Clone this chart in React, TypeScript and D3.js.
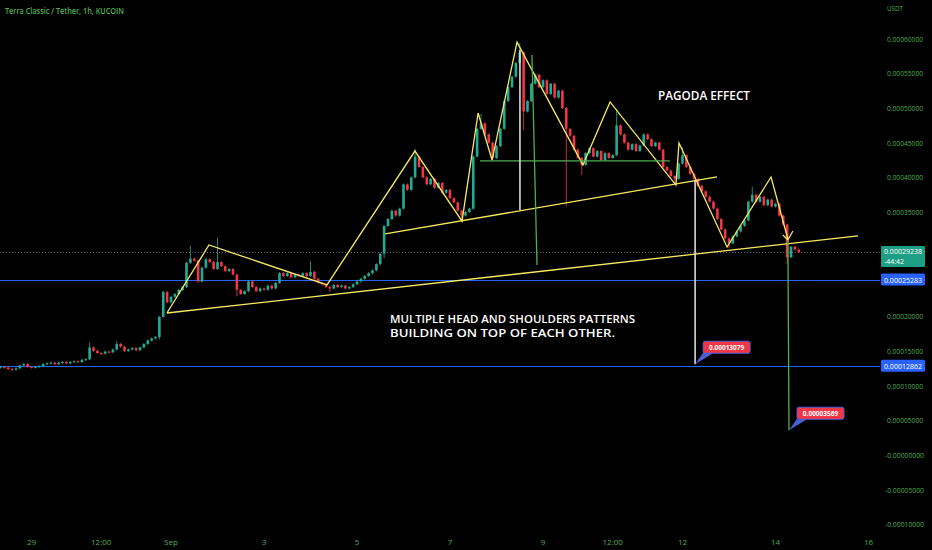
import React from 'react';
import * as d3 from 'd3';

const W = 932;
const H = 550;
const HOUR = 3600e3;
const T0 = Date.UTC(2022, 7, 29); // Aug 29 00:00
const T_END = Date.UTC(2022, 8, 16); // Sep 16
const CANDLE_START = Date.UTC(2022, 7, 28, 8);
const CANDLE_HOURS = 2;

// 2h closes in micro-USDT (1e-6)
const FIRST_OPEN = 126;
const closes = [
  127, 126, 124, 123, 125,
  129, 131, 127, 126, 127,
  128, 131, 132, 133, 131,
  133, 134, 132, 134, 135,
  134, 137, 138, 155, 150,
  147, 146, 149, 148, 152,
  160, 156, 150, 152, 154,
  151, 155, 160, 165, 168,
  170, 199, 235, 220, 228,
  232, 238, 242, 277, 283,
  280, 250, 270, 282, 278,
  268, 278, 272, 265, 268,
  260, 238, 232, 236, 250,
  242, 236, 240, 238, 244,
  240, 248, 262, 258, 262,
  256, 260, 258, 262, 258,
  264, 254, 248, 246, 242,
  240, 245, 242, 244, 240,
  242, 246, 250, 254, 258,
  262, 266, 275, 290, 330,
  340, 352, 345, 355, 390,
  382, 400, 430, 415, 400,
  390, 398, 385, 392, 378,
  382, 370, 364, 352, 345,
  350, 355, 430, 470, 478,
  462, 450, 428, 445, 470,
  510, 530, 545, 565, 580,
  495, 510, 535, 548, 530,
  540, 520, 535, 515, 525,
  500, 470, 460, 440, 428,
  418, 435, 442, 430, 438,
  425, 435, 428, 432, 475,
  462, 450, 440, 448, 438,
  446, 462, 455, 445, 450,
  440, 415, 410, 402, 398,
  420, 432, 415, 405, 398,
  388, 380, 372, 365, 355,
  340, 325, 312, 305, 315,
  322, 330, 338, 365, 375,
  365, 372, 360, 368, 358,
  362, 345, 332, 285, 300,
  296, 292.38,
];

// notable wicks: [candle index, high, low] (micro-USDT)
const wicks: [number, number | null, number | null][] = [
  [23, 161, null], [30, 163, null], [41, null, 168], [49, 300, null], [56, 312, null],
  [61, null, 230], [80, 278, null], [85, null, 236], [99, null, 285], [107, 440, null],
  [119, null, 338], [124, 490, null], [134, 592, null], [135, null, 470],
  [146, null, 360], [150, null, 405], [159, 497, null], [174, null, 392],
  [176, 442, null], [188, null, 300], [194, 385, null], [203, null, 277],
];

// y axis
const yTickValues = [0.0006, 0.00055, 0.0005, 0.00045, 0.0004, 0.00035, 0.0003, 0.00025, 0.0002, 0.00015, 0.0001, 0.00005, 0, -0.00005, -0.0001];
const yTickLabels = ['0.00060000', '0.00055000', '0.00050000', '0.00045000', '0.00040000', '0.00035000', '0.00030000', '0.00025000', '0.00020000', '0.00015000', '0.00010000', '0.00005000', '-0.00000000', '-0.00005000', '-0.00010000'];

// x axis
const xTickDates = [
  Date.UTC(2022, 7, 29), Date.UTC(2022, 7, 30, 12), Date.UTC(2022, 8, 1), Date.UTC(2022, 8, 3),
  Date.UTC(2022, 8, 5), Date.UTC(2022, 8, 7), Date.UTC(2022, 8, 9), Date.UTC(2022, 8, 10, 12),
  Date.UTC(2022, 8, 12), Date.UTC(2022, 8, 14), Date.UTC(2022, 8, 16),
];
const xTickLabels = ['29', '12:00', 'Sep', '3', '5', '7', '9', '12:00', '12', '14', '16'];

// horizontal levels
const hLevels = [0.00025283, 0.00012862];
const lastPrice = 0.00029238;
const countdown = '-44:42';

// drawings: points as [hours since Aug 29 00:00, micro-USDT]
const yellowZigzag: [number, number][] = [
  [69.9, 204.6], [91.6, 302.6], [152.5, 245], [197.9, 438], [222.2, 337], [230.5, 492.8],
  [237.7, 425], [250.6, 595], [284.6, 418], [298.6, 508.7], [332.6, 389], [334.2, 449.6],
  [359, 299.7], [381.7, 400.6], [390.4, 311.3],
];
const yellowArrow: [number, number][] = [[387.8, 317], [390.4, 309.8], [393.0, 322.8]];
const yellowLowerTrend: [number, number][] = [[69.9, 204.6], [426.6, 315.6]];
const yellowNeckline: [number, number][] = [[182.5, 318.5], [353.8, 400.6]];
const greenNeck: [number, number][] = [[231.5, 423.7], [329.5, 423.7]];
const greenDrop1: [number, number][] = [[258.3, 576.4], [260.9, 273.8]];
const greenDrop2: [number, number][] = [[390.4, 309.8], [390.97, 35.69]];
const whiteDrop1: [number, number][] = [[252.1, 583.6], [252.1, 353]];
const whiteDrop2: [number, number][] = [[342.5, 396], [342.5, 130.79]];

const callouts: { h: number; p: number; label: string }[] = [
  { h: 342.5, p: 130.79, label: '0.00013079' },
  { h: 390.97, p: 35.69, label: '0.00003569' },
];

const AXIS_GREEN = '#4caf50';
const UP = '#22ab94';
const DOWN = '#f23645';
const YELLOW = '#f7ea62';
const BLUE = '#2962ff';

export default function App() {
  const x = d3.scaleUtc().domain([new Date(T0), new Date(T_END)]).range([31.5, 868.5]);
  const y = d3.scaleLinear().domain([0, 0.0006]).range([455, 38.6]);
  const xh = (h: number) => x(new Date(T0 + h * HOUR));
  const yu = (p: number) => y(p * 1e-6);
  const line = d3.line<[number, number]>().x(d => xh(d[0])).y(d => yu(d[1]));

  const candles = closes.map((c, i) => {
    const o = i === 0 ? FIRST_OPEN : closes[i - 1];
    const w = wicks.find(k => k[0] === i);
    const hi = Math.max(o, c, w && w[1] != null ? w[1] : -Infinity);
    const lo = Math.min(o, c, w && w[2] != null ? w[2] : Infinity);
    return { t: new Date(CANDLE_START + i * CANDLE_HOURS * HOUR), o, c, hi, lo };
  });

  const bodyW = 2.6;
  const chartRight = 880;
  const crisp = (v: number) => Math.round(v) + 0.5;

  // hide axis tick labels covered by the price label boxes
  const boxes = [...hLevels.map(v => ({ c: y(v), r: 9 })), { c: y(lastPrice) + 4, r: 13 }];
  const visibleTicks = yTickValues
    .map((v, i) => ({ v, label: yTickLabels[i] }))
    .filter(t => boxes.every(b => Math.abs(y(t.v) - b.c) > b.r));

  return (
    <div style={{ position: 'fixed', left: 0, top: 0, width: W, height: H, background: '#000' }}>
      <svg width={W} height={H} style={{ display: 'block', background: '#000' }} fontFamily="'Open Sans', sans-serif">
        <defs>
          <clipPath id="plot">
            <rect x={0} y={0} width={chartRight} height={530} />
          </clipPath>
        </defs>
        <g clipPath="url(#plot)">
          {/* last price dotted line */}
          <line x1={0} x2={chartRight} y1={crisp(y(lastPrice))} y2={crisp(y(lastPrice))} stroke="#5d606b" strokeWidth={1} strokeDasharray="1 2" />
          {/* horizontal levels */}
          {hLevels.map((v, i) => (
            <line key={i} x1={0} x2={chartRight} y1={crisp(y(v))} y2={crisp(y(v))} stroke={BLUE} strokeWidth={1} />
          ))}
          {/* candles */}
          {candles.map((d, i) => {
            const cx = x(d.t);
            const col = d.c >= d.o ? UP : DOWN;
            const top = yu(Math.max(d.o, d.c));
            const bot = yu(Math.min(d.o, d.c));
            return (
              <g key={i}>
                <line x1={cx} x2={cx} y1={yu(d.hi) - 1} y2={yu(d.lo) + 1} stroke={col} strokeWidth={0.8} />
                <rect x={cx - bodyW / 2} y={top} width={bodyW} height={Math.max(1, bot - top)} fill={col} />
              </g>
            );
          })}
          {/* drawings */}
          <path d={line(yellowLowerTrend) || ''} stroke={YELLOW} strokeWidth={1.3} fill="none" />
          <path d={line(yellowNeckline) || ''} stroke={YELLOW} strokeWidth={1.3} fill="none" />
          <path d={line(yellowZigzag) || ''} stroke={YELLOW} strokeWidth={1.3} fill="none" strokeLinejoin="miter" />
          <path d={line(yellowArrow) || ''} stroke={YELLOW} strokeWidth={1.3} fill="none" />
          <path d={line(greenNeck) || ''} stroke="#4caf50" strokeWidth={1.3} fill="none" />
          <path d={line(greenDrop1) || ''} stroke="#4caf50" strokeWidth={1.3} fill="none" />
          <path d={line(greenDrop2) || ''} stroke="#4caf50" strokeWidth={1.3} fill="none" />
          <path d={line(whiteDrop1) || ''} stroke="#e8e8e8" strokeWidth={1.5} fill="none" />
          <path d={line(whiteDrop2) || ''} stroke="#e8e8e8" strokeWidth={1.5} fill="none" />
          {/* callouts */}
          {callouts.map((c, i) => {
            const ax = xh(c.h);
            const ay = yu(c.p);
            const bx = ax + 8;
            const by = ay - 23;
            const bw = 47;
            const bh = 12;
            return (
              <g key={i}>
                <polygon points={`${ax},${ay} ${bx + 1},${by + bh - 2} ${bx + 10},${by + bh}`} fill="#4a5fd6" />
                <rect x={bx} y={by} width={bw} height={bh} rx={2} fill={DOWN} stroke="#4a5fd6" strokeWidth={1} />
                <text x={bx + bw / 2} y={by + bh / 2 + 0.5} fill="#fff" fontSize={6.5} fontWeight={700} textAnchor="middle" dominantBaseline="central">
                  {c.label}
                </text>
              </g>
            );
          })}
          {/* annotation texts */}
          <text x={658} y={100} fill="#fff" fontSize={12.5} fontWeight={600} textLength={92} lengthAdjust="spacingAndGlyphs">PAGODA EFFECT</text>
          <text x={390} y={323} fill="#fff" fontSize={11.5} fontWeight={600} textLength={245} lengthAdjust="spacingAndGlyphs">MULTIPLE HEAD AND SHOULDERS PATTERNS</text>
          <text x={390} y={337} fill="#fff" fontSize={11.5} fontWeight={600} textLength={225} lengthAdjust="spacingAndGlyphs">BUILDING ON TOP OF EACH OTHER.</text>
        </g>

        {/* title */}
        <text x={5} y={14} fill={AXIS_GREEN} fontSize={8} fontWeight={600} textLength={119} lengthAdjust="spacingAndGlyphs">Terra Classic / Tether, 1h, KUCOIN</text>

        {/* y axis */}
        <text x={887} y={11} fill={AXIS_GREEN} fontSize={7.5} textLength={16} lengthAdjust="spacingAndGlyphs">USDT</text>
        {visibleTicks.map((t, i) => (
          <text key={i} x={t.label.startsWith('-') ? 885 : 887} y={y(t.v)} fill={AXIS_GREEN} fontSize={7.5} dominantBaseline="central"
            textLength={t.label.startsWith('-') ? 39 : 36} lengthAdjust="spacingAndGlyphs">
            {t.label}
          </text>
        ))}

        {/* x axis */}
        {xTickDates.map((t, i) => (
          <text key={i} x={x(new Date(t))} y={541} fill={AXIS_GREEN} fontSize={8} textAnchor="middle" dominantBaseline="central">
            {xTickLabels[i]}
          </text>
        ))}

        {/* axis price labels */}
        {hLevels.map((v, i) => (
          <g key={i}>
            <rect x={881} y={y(v) - 6} width={44} height={12} rx={1.5} fill={BLUE} />
            <text x={884} y={y(v) + 0.5} fill="#fff" fontSize={7.5} dominantBaseline="central" textLength={38} lengthAdjust="spacingAndGlyphs">
              {v.toFixed(8)}
            </text>
          </g>
        ))}
        <g>
          <rect x={881} y={y(lastPrice) - 6} width={44} height={21} rx={1.5} fill="#1e9e85" />
          <text x={884} y={y(lastPrice) - 0.5} fill="#fff" fontSize={6.8} dominantBaseline="central" textLength={38} lengthAdjust="spacingAndGlyphs">
            {lastPrice.toFixed(8)}
          </text>
          <text x={884} y={y(lastPrice) + 9.5} fill="#fff" fontSize={6.8} dominantBaseline="central" textLength={20} lengthAdjust="spacingAndGlyphs">
            {countdown}
          </text>
        </g>
      </svg>
    </div>
  );
}
